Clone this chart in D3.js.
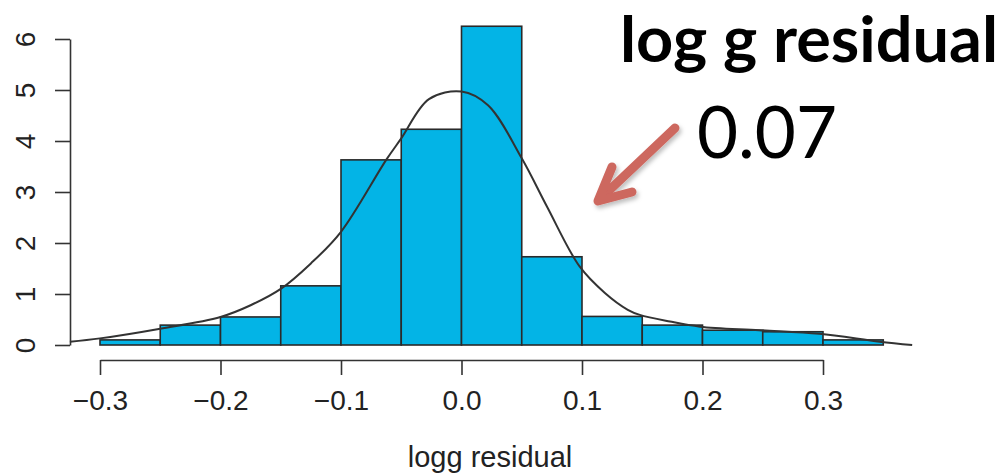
<!DOCTYPE html>
<html>
<head>
<meta charset="utf-8">
<script src="https://cdn.jsdelivr.net/npm/d3@7"></script>
<style>
  html, body { margin: 0; padding: 0; background: #fff; }
  svg { display: block; }
</style>
</head>
<body>
<svg id="chart" width="1006" height="473"></svg>
<script>
// ---- data ----
const binEdges = [-0.3, -0.25, -0.2, -0.15, -0.1, -0.05, 0.0, 0.05, 0.1, 0.15, 0.2, 0.25, 0.3, 0.35];
const binDensity = [0.1, 0.39, 0.55, 1.16, 3.63, 4.23, 6.25, 1.73, 0.56, 0.39, 0.29, 0.26, 0.1];
const curveX = [-0.325, -0.3, -0.25, -0.2, -0.175, -0.15, -0.125, -0.1, -0.0625, -0.05, -0.027, 0.0, 0.022, 0.05, 0.071, 0.098, 0.119, 0.138, 0.148, 0.173, 0.198, 0.247, 0.297, 0.347, 0.374];
const curveY = [0.065, 0.13, 0.32, 0.55, 0.78, 1.1, 1.6, 2.22, 3.63, 4.05, 4.82, 4.97, 4.7, 3.66, 2.71, 1.54, 1.02, 0.69, 0.59, 0.46, 0.36, 0.29, 0.22, 0.065, 0.0];
const xTicks = [-0.3, -0.2, -0.1, 0.0, 0.1, 0.2, 0.3];
const yTicks = [0, 1, 2, 3, 4, 5, 6];
const xLabel = "logg residual";
const titleText = "log g residual";
const valueText = "0.07";

// ---- layout ----
const svg = d3.select("#chart");
const x = d3.scaleLinear().domain([-0.3, 0.3]).range([100, 823]);
const y = d3.scaleLinear().domain([0, 6]).range([345, 39]);
const axisColor = "#333";
const axisFont = "'Liberation Sans', Arial, Helvetica, sans-serif";

// bars
const bins = binDensity.map((d, i) => ({ x0: binEdges[i], x1: binEdges[i + 1], v: d }));
svg.append("g").selectAll("rect").data(bins).join("rect")
  .attr("x", d => x(d.x0))
  .attr("y", d => y(d.v))
  .attr("width", d => x(d.x1) - x(d.x0))
  .attr("height", d => y(0) - y(d.v))
  .attr("fill", "#03b4e6")
  .attr("stroke", "#2a2a2a")
  .attr("stroke-width", 1.6);

// density curve
const pts = curveX.map((v, i) => [v, curveY[i]]);
svg.append("path")
  .datum(pts)
  .attr("fill", "none")
  .attr("stroke", "#333")
  .attr("stroke-width", 2)
  .attr("d", d3.line().x(d => x(d[0])).y(d => y(d[1])).curve(d3.curveCatmullRom));

// x axis
const gx = svg.append("g")
  .attr("transform", "translate(0,360)")
  .call(d3.axisBottom(x).tickValues(xTicks).tickSize(15).tickSizeOuter(0).tickFormat(d3.format(".1f")));
gx.select(".domain").attr("stroke", axisColor).attr("stroke-width", 1.6);
gx.selectAll(".tick line").attr("stroke", axisColor).attr("stroke-width", 1.6);
gx.selectAll(".tick text")
  .attr("y", 50).attr("dy", null)
  .attr("fill", "#222")
  .style("font-family", axisFont)
  .style("font-size", "28px");

// y axis
const gy = svg.append("g")
  .attr("transform", "translate(70,0)")
  .call(d3.axisLeft(y).tickValues(yTicks).tickSize(15).tickSizeOuter(0).tickFormat(d3.format("d")));
gy.select(".domain").attr("stroke", axisColor).attr("stroke-width", 1.6);
gy.selectAll(".tick line").attr("stroke", axisColor).attr("stroke-width", 1.6);
gy.selectAll(".tick text")
  .attr("x", 0).attr("y", -35).attr("dy", null)
  .attr("transform", "rotate(-90)")
  .attr("text-anchor", "middle")
  .attr("fill", "#222")
  .style("font-family", axisFont)
  .style("font-size", "28px");
svg.selectAll(".tick").attr("font-family", null).attr("font-size", null);

// x label
svg.append("text")
  .attr("x", 490).attr("y", 467)
  .attr("text-anchor", "middle")
  .attr("fill", "#222")
  .style("font-family", axisFont)
  .style("font-size", "29px")
  .text(xLabel);

// annotation
svg.append("text")
  .attr("x", 620).attr("y", 62)
  .attr("textLength", 378).attr("lengthAdjust", "spacingAndGlyphs")
  .attr("fill", "#000")
  .style("font-family", "Lato, 'Open Sans', sans-serif")
  .style("font-weight", "bold")
  .style("font-size", "64px")
  .text(titleText);

svg.append("text")
  .attr("x", 697).attr("y", 158)
  .attr("textLength", 140).attr("lengthAdjust", "spacingAndGlyphs")
  .attr("fill", "#000")
  .style("font-family", "Lato, 'Open Sans', sans-serif")
  .style("font-size", "72px")
  .text(valueText);

// arrow with soft shadow
const defs = svg.append("defs");
const f = defs.append("filter").attr("id", "shadow").attr("x", "-20%").attr("y", "-20%").attr("width", "140%").attr("height", "140%");
f.append("feDropShadow").attr("dx", 2).attr("dy", 3).attr("stdDeviation", 2).attr("flood-color", "#000").attr("flood-opacity", 0.25);
const arrow = svg.append("g").attr("filter", "url(#shadow)")
  .attr("fill", "none").attr("stroke", "#cd675f").attr("stroke-width", 9)
  .attr("stroke-linecap", "round").attr("stroke-linejoin", "round");
arrow.append("path").attr("d", "M675,128 L600,199");
arrow.append("path").attr("d", "M612,167 L598,201 L632,192");
</script>
</body>
</html>
